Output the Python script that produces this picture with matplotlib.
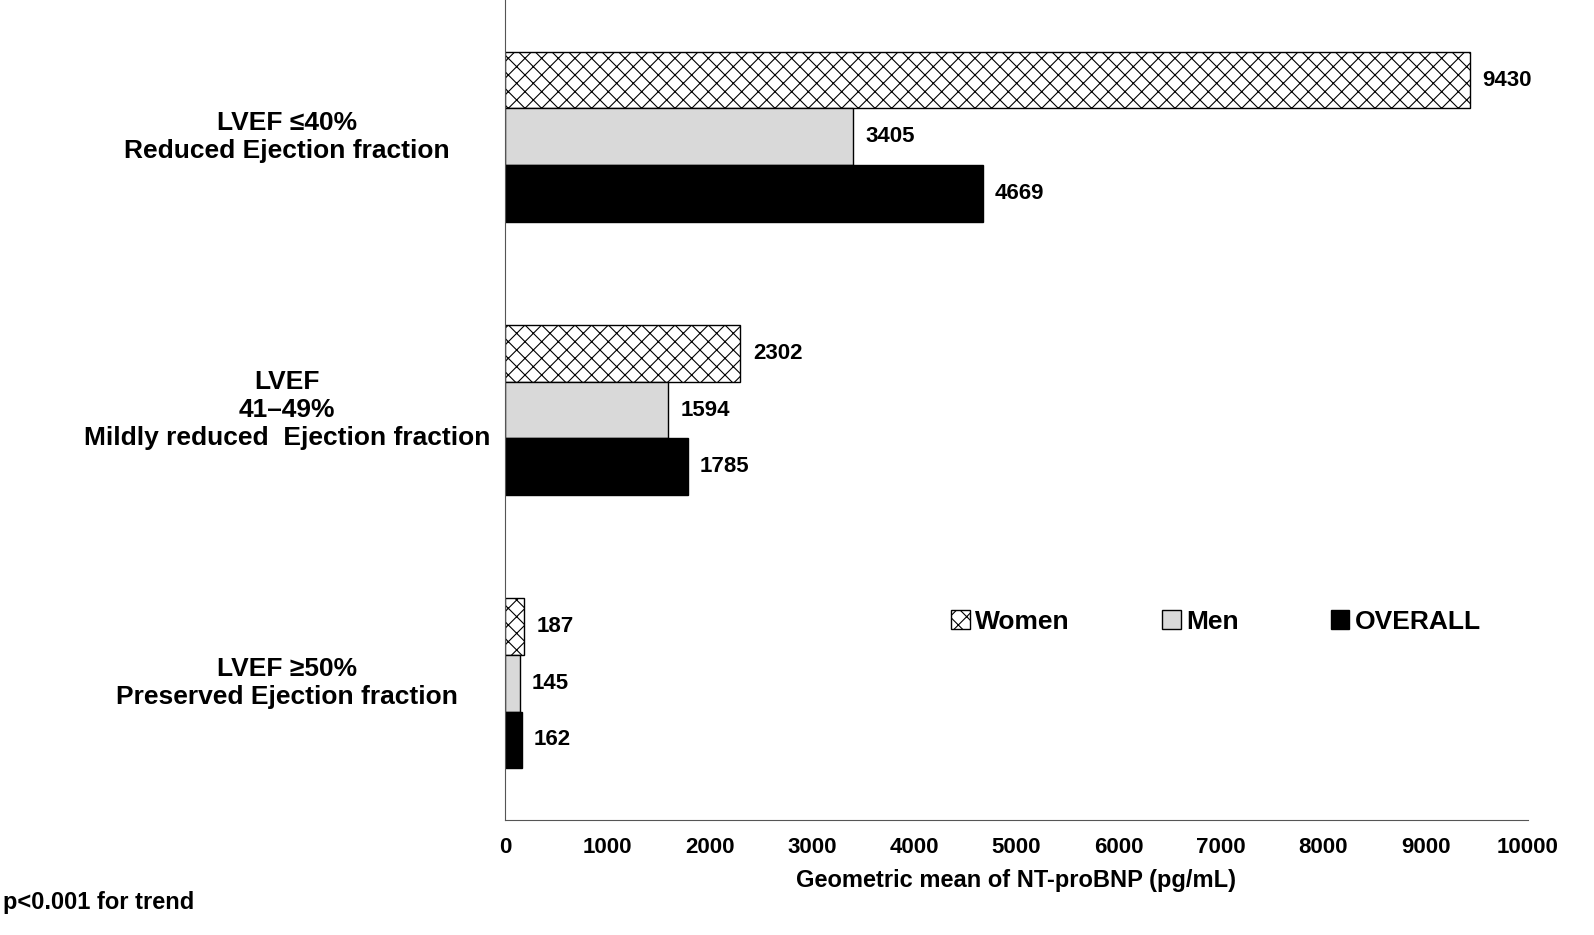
import matplotlib
matplotlib.use("Agg")
import matplotlib.pyplot as plt
import numpy as np
from matplotlib.patches import Patch

plt.rcParams["font.family"] = "Liberation Sans"
plt.rcParams["font.weight"] = "bold"
plt.rcParams["hatch.linewidth"] = 0.8

categories = ["LVEF \u226440%\nReduced Ejection fraction",
              "LVEF\n41\u201349%\nMildly reduced  Ejection fraction",
              "LVEF \u226550%\nPreserved Ejection fraction"]
women = [9430, 2302, 187]
men = [3405, 1594, 145]
overall = [4669, 1785, 162]
xticks = [0, 1000, 2000, 3000, 4000, 5000, 6000, 7000, 8000, 9000, 10000]

fig = plt.figure(figsize=(15.94, 9.35), dpi=100)
ax = fig.add_axes([505/1594, 1-820/935, (1528-505)/1594, 820/935])
y = np.arange(len(categories))
h = 0.207
ax.barh(y - h, women, h, color="white", edgecolor="black", hatch="xx", lw=1)
ax.barh(y, men, h, color="#d9d9d9", edgecolor="black", lw=1)
ax.barh(y + h, overall, h, color="black", edgecolor="black", lw=1)
for vals, off in ((women, -h), (men, 0), (overall, h)):
    for i, v in enumerate(vals):
        ax.text(v + 120, i + off, str(v), va="center", ha="left", fontsize=16, fontweight="bold")
ax.set_ylim(2.5, -0.5)
ax.set_xlim(0, 10000)
ax.set_xticks(xticks)
ax.set_xticklabels([str(t) for t in xticks], fontsize=16, fontweight="bold")
ax.tick_params(axis="x", length=0, pad=12)
ax.set_yticks([])
for i, c in enumerate(categories):
    ax.text(-2130, i, c, ha="center", va="center", fontsize=19,
            fontweight="bold", linespacing=1.2, transform=ax.transData)
ax.spines["top"].set_visible(False)
ax.spines["right"].set_visible(False)
ax.spines["left"].set_color("#555555")
ax.spines["bottom"].set_color("#555555")
ax.set_xlabel("Geometric mean of NT-proBNP (pg/mL)", fontsize=17, fontweight="bold", labelpad=8)
handles = [Patch(facecolor="white", edgecolor="black", hatch="xx"),
           Patch(facecolor="#d9d9d9", edgecolor="black"),
           Patch(facecolor="black", edgecolor="black")]
ax.legend(handles, ["Women", "Men", "OVERALL"], ncol=3, loc="center", bbox_to_anchor=(0.695, 0.242),
          frameon=False, fontsize=19, handlelength=0.7, handleheight=0.7, handletextpad=0.2,
          columnspacing=3.5)
fig.text(3/1594, 1-903/935, "p<0.001 for trend", fontsize=17, fontweight="bold", va="center")
fig.savefig("out.png", dpi=100)
